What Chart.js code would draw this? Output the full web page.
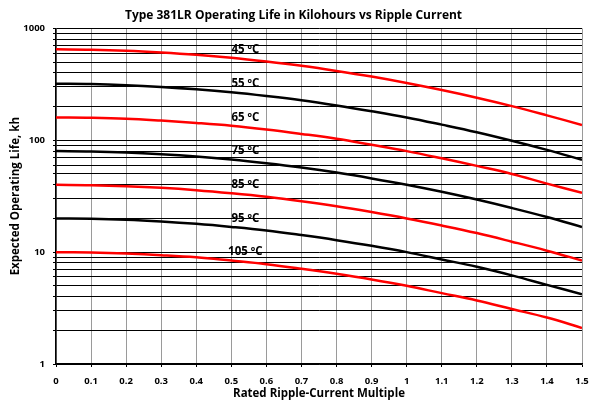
<!DOCTYPE html>
<html>
<head>
<meta charset="utf-8">
<script src="https://cdn.jsdelivr.net/npm/chart.js@4.4.0/dist/chart.umd.min.js"></script>
<style>
  html, body { margin: 0; padding: 0; background: #fff; }
  #wrap { width: 589px; height: 402px; }
</style>
</head>
<body>
<div id="wrap"><canvas id="chart" width="589" height="402"></canvas></div>
<script>
const rippleMultiple = [0, 0.1, 0.2, 0.3, 0.4, 0.5, 0.6, 0.7, 0.8, 0.9, 1.0, 1.1, 1.2, 1.3, 1.4, 1.5];

const life45 = [650, 645, 632, 610, 582, 547, 506, 463, 417, 371, 325, 281, 240, 202, 167, 137];
const life55 = [320, 318, 311, 300, 286, 269, 249, 228, 205, 182, 160, 138, 118, 99, 82, 67];
const life65 = [160, 159, 156, 150, 143, 135, 125, 114, 103, 91, 80, 69, 59, 50, 41, 34];
const life75 = [80, 79.4, 77.8, 75.1, 71.6, 67.3, 62.3, 57, 51.4, 45.6, 40, 34.6, 29.5, 24.8, 20.6, 16.8];
const life85 = [40, 39.7, 38.9, 37.6, 35.8, 33.6, 31.2, 28.5, 25.7, 22.8, 20, 17.3, 14.8, 12.4, 10.3, 8.4];
const life95 = [20, 19.9, 19.5, 18.8, 17.9, 16.8, 15.6, 14.2, 12.8, 11.4, 10, 8.6, 7.4, 6.2, 5.1, 4.2];
const life105 = [10, 9.9, 9.7, 9.4, 9.0, 8.4, 7.8, 7.1, 6.4, 5.7, 5, 4.3, 3.7, 3.1, 2.6, 2.1];

const tempLabels = ['45 ºC', '55 ºC', '65 ºC', '75 ºC', '85 ºC', '95 ºC', '105 ºC'];
const xTicks = [0, 0.1, 0.2, 0.3, 0.4, 0.5, 0.6, 0.7, 0.8, 0.9, 1.0, 1.1, 1.2, 1.3, 1.4, 1.5];
const yTicks = [1, 2, 3, 4, 5, 6, 7, 8, 9, 10, 20, 30, 40, 50, 60, 70, 80, 90,
                100, 200, 300, 400, 500, 600, 700, 800, 900, 1000];
const yLabelled = [1, 10, 100, 1000];

const seriesList = [life45, life55, life65, life75, life85, life95, life105];
const colours = ['#ff0000', '#000000'];

const datasets = seriesList.map((s, i) => ({
    label: tempLabels[i],
    data: s.map((v, j) => ({ x: rippleMultiple[j], y: v })),
    borderColor: colours[i % 2],
    borderWidth: 2.5,
    pointRadius: 0,
    tension: 0.4,
    fill: false
}));

// temperature tags sit at each curve's starting value, around x = 0.54
const tagPlugin = {
    id: 'tempTags',
    afterDatasetsDraw(chart) {
        const { ctx, scales } = chart;
        ctx.save();
        ctx.font = 'bold 11.5px "Open Sans"';
        ctx.fillStyle = '#000';
        ctx.textAlign = 'center';
        ctx.textBaseline = 'middle';
        seriesList.forEach((s, i) => {
            const px = scales.x.getPixelForValue(0.54);
            const py = scales.y.getPixelForValue(s[0]);
            ctx.fillText(tempLabels[i], px, py);
        });
        ctx.restore();
    }
};

// eslint-disable-next-line no-undef
new Chart(document.getElementById('chart'), {
    type: 'line',
    data: { datasets },
    plugins: [tagPlugin],
    options: {
        responsive: false,
        animation: false,
        layout: { padding: { left: 5, right: 7, top: 0, bottom: 1 } },
        plugins: {
            legend: { display: false },
            tooltip: { enabled: false },
            title: {
                display: true,
                text: 'Type 381LR Operating Life in Kilohours vs Ripple Current',
                color: '#000',
                font: { family: 'Open Sans', size: 12, weight: 'bold' },
                padding: { top: 8, bottom: 6 }
            }
        },
        scales: {
            x: {
                type: 'linear',
                min: 0,
                max: 1.5,
                afterBuildTicks: axis => { axis.ticks = xTicks.map(v => ({ value: v })); },
                afterFit: axis => { axis.height = 37; axis.paddingRight = 0; axis.paddingLeft = 0; },
                ticks: {
                    color: '#000',
                    font: { family: 'Open Sans', size: 9.5, weight: 'bold' },
                    maxRotation: 0,
                    padding: 9,
                    callback: v => String(Math.round(v * 10) / 10)
                },
                grid: { color: '#9a9a9a', lineWidth: 1, tickLength: 3, tickColor: '#000' },
                border: { color: '#000', width: 1.5 },
                title: {
                    display: true,
                    text: 'Rated Ripple-Current Multiple',
                    color: '#000',
                    font: { family: 'Open Sans', size: 11.5, weight: 'bold' },
                    padding: { top: 0, bottom: 0 }
                }
            },
            y: {
                type: 'logarithmic',
                min: 1,
                max: 1000,
                afterBuildTicks: axis => { axis.ticks = yTicks.map(v => ({ value: v })); },
                afterFit: axis => { axis.width = 51; },
                ticks: {
                    color: '#000',
                    font: { family: 'Open Sans', size: 9.5, weight: 'bold' },
                    padding: 8,
                    autoSkip: false,
                    callback: v => yLabelled.includes(v) ? String(v) : ''
                },
                grid: { color: '#000', lineWidth: 1, tickLength: 3, tickColor: '#000' },
                border: { color: '#000', width: 1.5 },
                title: {
                    display: true,
                    text: 'Expected Operating Life, kh',
                    color: '#000',
                    font: { family: 'Open Sans', size: 11.5, weight: 'bold' },
                    padding: { top: 4, bottom: 0 }
                }
            }
        }
    }
});
</script>
</body>
</html>
